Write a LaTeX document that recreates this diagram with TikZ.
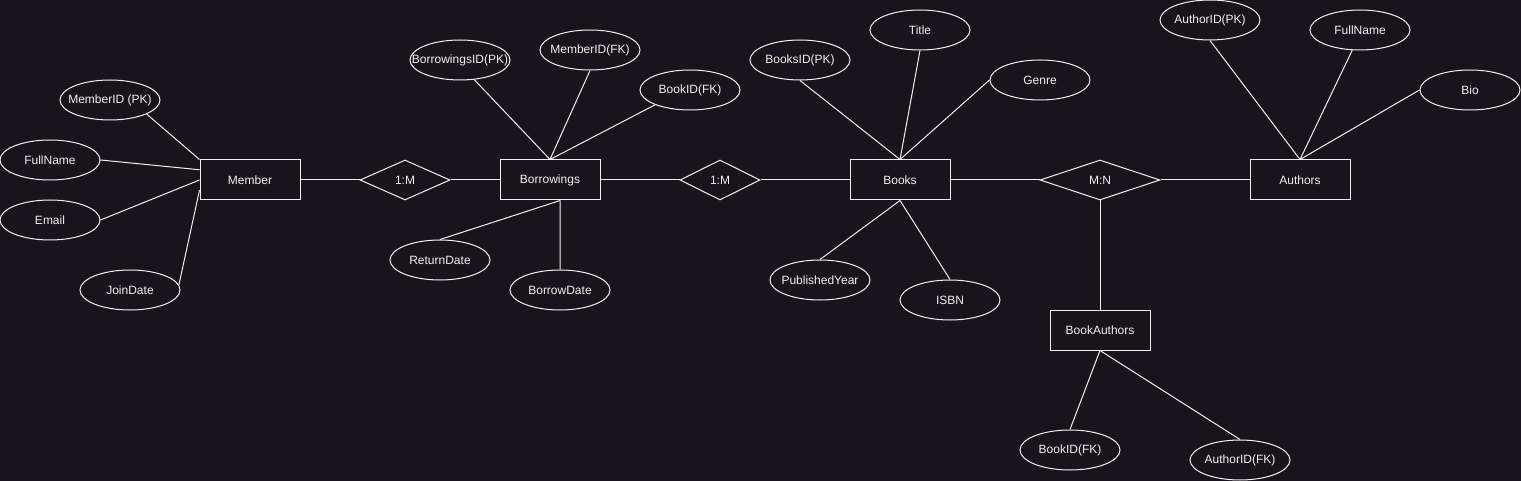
\documentclass[tikz,border=0pt]{standalone}
\usepackage{fontspec}
\setmainfont{Liberation Sans}
\usetikzlibrary{shapes.geometric,calc}
\definecolor{bgc}{RGB}{24,20,29}
\definecolor{fg}{RGB}{240,240,240}
\newcommand{\zw}[1]{\makebox[0pt]{#1}}
\begin{document}
\begin{tikzpicture}[x=1pt,y=-1pt,line width=1pt,
  every node/.style={text=fg,font=\fontsize{12}{14}\selectfont},
  ent/.style={draw=fg,fill=bgc,rectangle,minimum width=100pt,minimum height=40pt,inner sep=0pt},
  attr/.style={draw=fg,fill=bgc,ellipse,minimum width=100pt,minimum height=40pt,inner sep=0pt},
  rel/.style={draw=fg,fill=bgc,diamond,minimum height=40pt,inner sep=0pt},
  link/.style={draw=fg}]
\fill[bgc] (0,0) rectangle (1521,481);
\useasboundingbox (0,0) rectangle (1521,481);
% entities
\node[ent] (mem) at (250,180) {\zw{Member}};
\node[ent] (bor) at (550,180) {\zw{Borrowings}};
\node[ent] (bks) at (900,180) {\zw{Books}};
\node[ent] (aut) at (1300,180) {\zw{Authors}};
\node[ent] (ba) at (1100,330) {\zw{BookAuthors}};
% relationships
\node[rel,minimum width=90pt] (r1) at (405,180) {\zw{1:M}};
\node[rel,minimum width=80pt] (r2) at (720,180) {\zw{1:M}};
\node[rel,minimum width=120pt] (r3) at (1100,180) {\zw{M:N}};
% member attributes
\node[attr] (mid) at (110,100) {\zw{MemberID (PK)}};
\node[attr] (mfn) at (50,160) {\zw{FullName}};
\node[attr] (mem2) at (50,220) {\zw{Email}};
\node[attr] (mjd) at (130,290) {\zw{JoinDate}};
% borrowings attributes
\node[attr] (bid) at (460,60) {\zw{BorrowingsID(PK)}};
\node[attr] (bmf) at (590,50) {\zw{MemberID(FK)}};
\node[attr] (bbf) at (690,90) {\zw{BookID(FK)}};
\node[attr] (brd) at (440,260) {\zw{ReturnDate}};
\node[attr] (bbd) at (560,290) {\zw{BorrowDate}};
% books attributes
\node[attr] (kid) at (800,60) {\zw{BooksID(PK)}};
\node[attr] (kti) at (920,30) {\zw{Title}};
\node[attr] (kge) at (1040,80) {\zw{Genre}};
\node[attr] (kpy) at (820,280) {\zw{PublishedYear}};
\node[attr] (kis) at (950,300) {\zw{ISBN}};
% authors attributes
\node[attr] (aid) at (1210,20) {\zw{AuthorID(PK)}};
\node[attr] (afn) at (1360,30) {\zw{FullName}};
\node[attr] (abi) at (1470,90) {\zw{Bio}};
% bookauthors attributes
\node[attr] (abk) at (1070,450) {\zw{BookID(FK)}};
\node[attr] (aaf) at (1240,460) {\zw{AuthorID(FK)}};
% connection points
\coordinate (memA) at ($(mem.north west)!0.25!(mem.south west)$);
\coordinate (memB) at ($(mem.north west)!0.75!(mem.south west)$);
\coordinate (borB) at ($(bor.south west)!0.6!(bor.south east)$);
% relationships links
\draw[link] (mem.east) -- (r1.west);
\draw[link] (r1.east) -- (bor.west);
\draw[link] (bor.east) -- (r2.west);
\draw[link] (r2.east) -- (bks.west);
\draw[link] (bks.east) -- (r3.west);
\draw[link] (r3.east) -- (aut.west);
\draw[link] (r3.south) -- (ba.north);
% member
\draw[link] (mid.-21) -- (mem.north west);
\draw[link] (mfn.east) -- (memA);
\draw[link] (mem2.east) -- (mem.west);
\draw[link] (mjd.6) -- (memB);
% borrowings
\draw[link] (bid.-54) -- (bor.north);
\draw[link] (bmf.south) -- (bor.north);
\draw[link] (bbf.203) -- (bor.north);
\draw[link] (brd.north) -- (borB);
\draw[link] (bbd.north) -- (borB);
% books
\draw[link] (kid.south) -- (bks.north);
\draw[link] (kti.south) -- (bks.north);
\draw[link] (kge.west) -- (bks.north);
\draw[link] (kpy.north) -- (bks.south);
\draw[link] (kis.north) -- (bks.south);
% authors
\draw[link] (aid.south) -- (aut.north);
\draw[link] (afn.-111) -- (aut.north);
\draw[link] (abi.west) -- (aut.north);
% bookauthors
\draw[link] (abk.north) -- (ba.south);
\draw[link] (aaf.north) -- (ba.south);
\end{tikzpicture}
\end{document}
